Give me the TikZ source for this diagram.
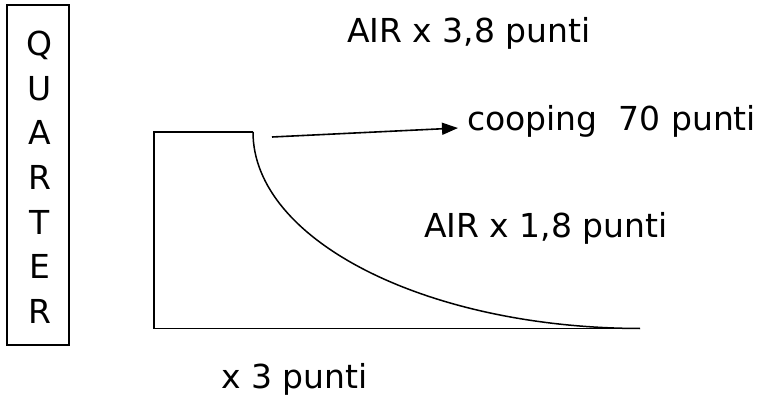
\documentclass[tikz,border=0pt]{standalone}
\usepackage{fontspec}
\setmainfont{DejaVu Sans}
\usetikzlibrary{arrows.meta}
\begin{document}
\begin{tikzpicture}[x=1pt,y=-1pt,
  lbl/.style={inner sep=0pt,font=\fontsize{33}{40}\selectfont},
  frame/.style={draw,line width=1.8pt,inner sep=0pt},
  outline/.style={line width=1.8pt},
  curveline/.style={line width=1.5pt},
  pointer/.style={line width=1.6pt,-{Triangle[length=16pt,width=12pt]}}]
\useasboundingbox (0,0) rectangle (763,406);
% vertical box
\node[frame,minimum width=62pt,minimum height=340pt] (box) at (38,175) {};
\foreach \ch [count=\i] in {Q,U,A,R,T,E,R}
  \node[lbl,anchor=base] (l\i) at (39.5,{56+44.5*(\i-1)}) {\ch};
% shape
\coordinate (tl) at (154,132);
\coordinate (tr) at (253,132);
\coordinate (bl) at (154,328.5);
\coordinate (br) at (640,328.5);
\draw[outline] (bl) -- (tl) -- (tr);
\draw[outline] (bl) -- (br);
\draw[curveline] (tr) .. controls (253,240.3) and (426.3,328) .. (br);
% arrow
\coordinate (as) at (272,137);
\coordinate (ae) at (458,128);
\draw[pointer] (as) -- (ae);
% labels
\node[lbl,anchor=base west] (air1) at (347,43) {AIR x 3,8 punti};
\node[lbl,anchor=base west] (coop) at (467,131) {cooping\ \ 70 punti};
\node[lbl,anchor=base west] (air2) at (424,238) {AIR x 1,8 punti};
\node[lbl,anchor=base west] (x3) at (221,388) {x 3 punti};
\end{tikzpicture}
\end{document}
